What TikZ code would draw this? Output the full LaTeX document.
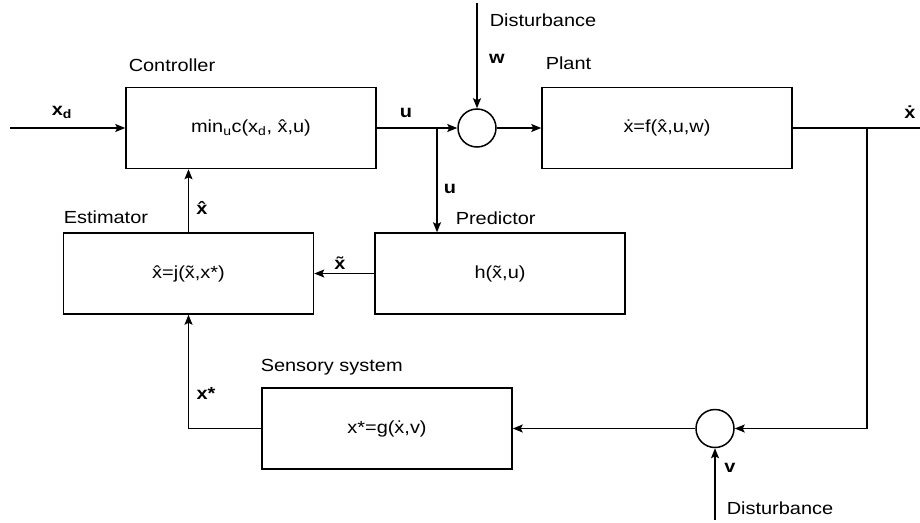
\documentclass[tikz,border=0pt]{standalone}
\usepackage{fontspec}
\setmainfont{Liberation Sans}
\usepackage{graphicx}
\usetikzlibrary{positioning, arrows.meta, calc}

\newcommand{\wtxt}[1]{\scalebox{1.14}[1]{#1}}

\tikzset{
    block/.style={draw, line width=1.5pt, minimum width=250pt, minimum height=81pt, inner sep=0pt, font=\fontsize{17.5}{21}\selectfont},
    sumnode/.style={draw, circle, line width=1.5pt, minimum size=38pt, inner sep=0pt},
    lbl/.style={inner sep=0pt, anchor=west, font=\fontsize{17.5}{21}\selectfont},
    sig/.style={inner sep=0pt, font=\fontsize{17.5}{21}\selectfont\bfseries},
}

\begin{document}
\begin{tikzpicture}[x=1pt, y=-1pt, >={Stealth[length=10pt, width=8pt, inset=2pt]}, line width=1.5pt]
    \useasboundingbox (0,0) rectangle (920,522);

    % Bloky
    \node[block] (ctrl) at (251,128) {\wtxt{min\textsubscript{u}c(x\textsubscript{d}, \^x,u)}};
    \node[block] (plant) at (667,128) {\wtxt{\.x=f(\^x,u,w)}};
    \node[block] (est) at (188.5,273.5) {\wtxt{\^x=j(\~x,x*)}};
    \node[block] (pred) at (500,273.5) {\wtxt{h(\~x,u)}};
    \node[block] (sens) at (387,428.5) {\wtxt{x*=g(\.x,v)}};

    % Scitaci cleny
    \node[sumnode] (sumw) at (477,128) {};
    \node[sumnode] (sumv) at (715,428.5) {};

    % Pomocne body
    \coordinate (xin) at (10,128);
    \coordinate (ju) at (437,128);
    \coordinate (jx) at (867,128);
    \coordinate (xout) at (920,128);
    \coordinate (wtop) at (477,3);
    \coordinate (vbot) at (715,520);

    % Nazvy bloku
    \node[lbl] (ctrllbl) at (128,65) {\wtxt{Controller}};
    \node[lbl] (plantlbl) at (545,63) {\wtxt{Plant}};
    \node[lbl] (estlbl) at (63,217) {\wtxt{Estimator}};
    \node[lbl] (predlbl) at (455,218) {\wtxt{Predictor}};
    \node[lbl] (senslbl) at (260,367) {\wtxt{Sensory system}};
    \node[lbl] (wlbl) at (489,20) {\wtxt{Disturbance}};
    \node[lbl] (vlbl) at (726,508) {\wtxt{Disturbance}};

    % Signaly
    \node[sig] (xdsig) at (62,112) {\wtxt{x\textsubscript{d}}};
    \node[sig] (usig) at (406,113) {\wtxt{u}};
    \node[sig] (wsig) at (497,59) {\wtxt{w}};
    \node[sig] (xdotsig) at (910,112) {\wtxt{\.x}};
    \node[sig] (udsig) at (450,189) {\wtxt{u}};
    \node[sig] (xhatsig) at (202,208) {\wtxt{\^x}};
    \node[sig] (xtilsig) at (340,263) {\wtxt{\~x}};
    \node[sig] (xstarsig) at (206,393) {\wtxt{x*}};
    \node[sig] (vsig) at (730,468) {\wtxt{v}};

    % Dopredna vetev
    \draw[->] (xin) -- (ctrl);
    \draw[->] (ctrl) -- (sumw);
    \draw[->] (wtop) -- (sumw);
    \draw[->] (sumw) -- (plant);
    \draw (plant) -- (xout);

    % Predikce a odhad
    \draw[->] (ju) -- (ju |- pred.north);
    \draw[->] (pred) -- (est);
    \draw[->] (est.north) -- (est.north |- ctrl.south);

    % Zpetna vazba
    \draw[->] (jx) |- (sumv);
    \draw[->] (vbot) -- (sumv);
    \draw[->] (sumv) -- (sens);
    \draw[->] (sens.west) -| (est.south);
\end{tikzpicture}
\end{document}
